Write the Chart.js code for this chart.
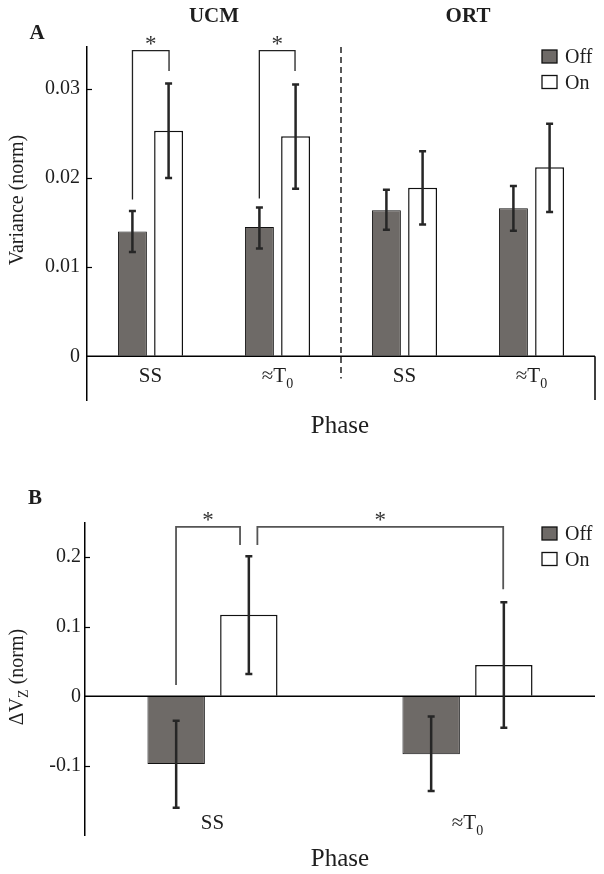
<!DOCTYPE html>
<html>
<head>
<meta charset="utf-8">
<script src="https://cdn.jsdelivr.net/npm/chart.js@4"></script>
<style>
  html, body { margin: 0; padding: 0; background: #fff; }
  #wrap { position: relative; width: 604px; height: 874px; }
  canvas { position: absolute; left: 0; }
  #ca { top: 0; }
  #cb { top: 440px; }
</style>
</head>
<body>
<div id="wrap">
  <canvas id="ca" width="604" height="440"></canvas>
  <canvas id="cb" width="604" height="434"></canvas>
</div>
<script>
// ---------- Panel A data ----------
const catA = ['SS', '\u2248T', 'SS', '\u2248T'];
const catSubA = ['', '0', '', '0'];
const groupTitlesA = ['UCM', 'ORT'];
const offA = [0.0140, 0.0145, 0.0164, 0.0166];
const onA = [0.0253, 0.0247, 0.0189, 0.0212];
const offHighA = [0.0163, 0.0167, 0.0187, 0.0191];
const offLowA = [0.0117, 0.0121, 0.0142, 0.0141];
const onHighA = [0.0306, 0.0305, 0.0230, 0.0261];
const onLowA = [0.0200, 0.0188, 0.0148, 0.0162];
const yTicksA = [0, 0.01, 0.02, 0.03];
const yTickLabelsA = ['0', '0.01', '0.02', '0.03'];
// significance brackets (x in category index units, y in data units)
const bracketsA = [
  { x1: -0.142, x2: 0.146, y1: 0.0176, y2: 0.0320, top: 0.0343 },
  { x1: 0.857, x2: 1.138, y1: 0.0177, y2: 0.0320, top: 0.0343 }
];

// ---------- Panel B data ----------
const catB = ['SS', '\u2248T'];
const catSubB = ['', '0'];
const offB = [-0.097, -0.083];
const onB = [0.117, 0.045];
const offHighB = [-0.035, -0.029];
const offLowB = [-0.160, -0.136];
const onHighB = [0.201, 0.135];
const onLowB = [0.032, -0.045];
const yTicksB = [-0.1, 0, 0.1, 0.2];
const yTickLabelsB = ['-0.1', '0', '0.1', '0.2'];
const bracketsB = [
  { x1: -0.143, x2: 0.108, y1: 0.016, y2: 0.217, top: 0.243 },
  { x1: 0.176, x2: 1.140, y1: 0.217, y2: 0.1535, top: 0.243 }
];

const seriesNames = ['Off', 'On'];
const SERIF = '"Liberation Serif", "Times New Roman", serif';
const TXT = '#1e1e1e';

function drawParts(ctx, parts, x, y) {
  // parts: [{t, size, dy, bold}] centered at x, baseline y
  let total = 0;
  parts.forEach(p => {
    ctx.font = (p.bold ? 'bold ' : '') + p.size + 'px ' + SERIF;
    p.w = ctx.measureText(p.t).width;
    total += p.w;
  });
  let cx = x - total / 2;
  ctx.textAlign = 'left';
  ctx.textBaseline = 'alphabetic';
  parts.forEach(p => {
    ctx.font = (p.bold ? 'bold ' : '') + p.size + 'px ' + SERIF;
    ctx.fillText(p.t, cx, y + (p.dy || 0));
    cx += p.w;
  });
}

const panelPlugin = {
  id: 'panelPlugin',
  afterDatasetsDraw(chart) {
    const o = chart.options.plugins.panelPlugin;
    const ctx = chart.ctx;
    const x = chart.scales.x, y = chart.scales.y;
    const ca = chart.chartArea;
    ctx.save();
    // zero line (x axis)
    const y0 = y.getPixelForValue(0);
    ctx.strokeStyle = '#000';
    ctx.lineWidth = 1.5;
    ctx.beginPath();
    ctx.moveTo(ca.left, y0);
    ctx.lineTo(ca.right, y0);
    ctx.stroke();
    if (o.rightTick) {
      ctx.beginPath();
      ctx.moveTo(ca.right, y0);
      ctx.lineTo(ca.right, ca.bottom);
      ctx.stroke();
    }
    // inward y tick marks
    ctx.lineWidth = 1.2;
    o.yTicks.forEach(v => {
      if (v === 0) return;
      const py = Math.round(y.getPixelForValue(v)) + 0.5;
      ctx.beginPath();
      ctx.moveTo(ca.left, py);
      ctx.lineTo(ca.left + 5, py);
      ctx.stroke();
    });
    // divider
    if (o.divider !== undefined) {
      const dx = x.getPixelForValue(o.divider);
      ctx.setLineDash([6, 4]);
      ctx.lineWidth = 1.5;
      ctx.strokeStyle = '#222';
      ctx.beginPath();
      ctx.moveTo(dx, ca.top);
      ctx.lineTo(dx, y.getPixelForValue(o.dividerBottom));
      ctx.stroke();
      ctx.setLineDash([]);
    }
    // error bars
    ctx.strokeStyle = '#262626';
    ctx.lineWidth = 2.5;
    o.errors.forEach((err, di) => {
      const meta = chart.getDatasetMeta(di);
      meta.data.forEach((bar, j) => {
        const hi = y.getPixelForValue(err.high[j]);
        const lo = y.getPixelForValue(err.low[j]);
        ctx.beginPath();
        ctx.moveTo(bar.x, hi);
        ctx.lineTo(bar.x, lo);
        ctx.moveTo(bar.x - 3.5, hi);
        ctx.lineTo(bar.x + 3.5, hi);
        ctx.moveTo(bar.x - 3.5, lo);
        ctx.lineTo(bar.x + 3.5, lo);
        ctx.stroke();
      });
    });
    // significance brackets
    ctx.strokeStyle = o.bracketColor;
    ctx.lineWidth = o.bracketWidth;
    ctx.fillStyle = '#333';
    o.brackets.forEach(b => {
      const x1 = x.getPixelForValue(b.x1), x2 = x.getPixelForValue(b.x2);
      const t = y.getPixelForValue(b.top);
      ctx.beginPath();
      ctx.moveTo(x1, y.getPixelForValue(b.y1));
      ctx.lineTo(x1, t);
      ctx.lineTo(x2, t);
      ctx.lineTo(x2, y.getPixelForValue(b.y2));
      ctx.stroke();
      ctx.font = '23px ' + SERIF;
      ctx.textAlign = 'center';
      ctx.textBaseline = 'alphabetic';
      ctx.fillText('*', (x1 + x2) / 2, t + 0.5);
    });
    // category labels
    ctx.fillStyle = TXT;
    o.cats.forEach((c, i) => {
      const px = x.getPixelForValue(i);
      const parts = [{ t: c, size: 21 }];
      if (o.catSubs[i]) parts.push({ t: o.catSubs[i], size: 14, dy: 6 });
      drawParts(ctx, parts, px, o.catLabelY);
    });
    // x title
    drawParts(ctx, [{ t: 'Phase', size: 25 }], o.phaseX, o.phaseY);
    // group titles
    if (o.groupTitles) {
      o.groupTitles.forEach((g, i) => {
        drawParts(ctx, [{ t: g, size: 21, bold: true }], x.getPixelForValue(i * 2 + 0.5), 22);
      });
    }
    // panel letter
    drawParts(ctx, [{ t: o.letter, size: 21, bold: true }], o.letterX, o.letterY);
    // y title (rotated)
    ctx.save();
    ctx.translate(o.yTitleX, o.yTitleY);
    ctx.rotate(-Math.PI / 2);
    drawParts(ctx, o.yTitle, 0, 0);
    ctx.restore();
    // legend
    chart.data.datasets.forEach((ds, i) => {
      const ly = o.legendY + i * 25.5;
      ctx.fillStyle = ds.backgroundColor;
      ctx.fillRect(542, ly, 15, 13);
      ctx.strokeStyle = ds.borderColor;
      ctx.lineWidth = 1.3;
      ctx.strokeRect(542, ly, 15, 13);
      ctx.fillStyle = TXT;
      ctx.font = '20px ' + SERIF;
      ctx.textAlign = 'left';
      ctx.textBaseline = 'alphabetic';
      ctx.fillText(ds.label, 565, ly + 13);
    });
    ctx.restore();
  }
};

function makeChart(id, cfg) {
  return new Chart(document.getElementById(id), {
    type: 'bar',
    data: {
      labels: cfg.cats,
      datasets: [
        { label: seriesNames[0], data: cfg.off, backgroundColor: '#6e6a67', borderColor: '#111', borderWidth: 1,
          barPercentage: cfg.barPct, categoryPercentage: cfg.catPct },
        { label: seriesNames[1], data: cfg.on, backgroundColor: '#ffffff', borderColor: '#111', borderWidth: 1.5,
          barPercentage: cfg.barPct, categoryPercentage: cfg.catPct }
      ]
    },
    options: {
      responsive: false,
      animation: false,
      events: [],
      layout: { padding: cfg.padding },
      plugins: {
        legend: { display: false },
        tooltip: { enabled: false },
        panelPlugin: cfg.plugin
      },
      scales: {
        x: { type: 'category', display: false, offset: true, grid: { display: false } },
        y: {
          min: cfg.yMin, max: cfg.yMax,
          afterFit: s => { s.width = cfg.axisLeft; },
          afterBuildTicks: s => { s.ticks = cfg.yTicks.map(v => ({ value: v })); },
          ticks: {
            padding: cfg.tickPad, color: TXT,
            font: { family: SERIF, size: 20 },
            callback: (v, i) => cfg.yTickLabels[i]
          },
          grid: { drawOnChartArea: false, drawTicks: false },
          border: { display: true, color: '#000', width: 1.5 }
        }
      }
    },
    plugins: [panelPlugin]
  });
}

makeChart('ca', {
  cats: catA, off: offA, on: onA, barPct: 0.8, catPct: 0.57,
  padding: { top: 47, bottom: 40, left: 0, right: 9 },
  yMin: -0.0049, yMax: 0.0347, yTicks: yTicksA, yTickLabels: yTickLabelsA,
  axisLeft: 87, tickPad: 7,
  plugin: {
    yTicks: yTicksA, rightTick: true, divider: 1.5, dividerBottom: -0.0025,
    errors: [{ high: offHighA, low: offLowA }, { high: onHighA, low: onLowA }],
    brackets: bracketsA, bracketColor: '#222', bracketWidth: 1.3,
    cats: catA, catSubs: catSubA, catLabelY: 382,
    phaseX: 340, phaseY: 433,
    groupTitles: groupTitlesA,
    letter: 'A', letterX: 37, letterY: 39,
    yTitle: [{ t: 'Variance (norm)', size: 20 }], yTitleX: 23, yTitleY: 200,
    legendY: 50
  }
});

makeChart('cb', {
  cats: catB, off: offB, on: onB, barPct: 0.79, catPct: 0.57,
  padding: { top: 82.7, bottom: 39, left: 0, right: 9 },
  yMin: -0.199, yMax: 0.249, yTicks: yTicksB, yTickLabels: yTickLabelsB,
  axisLeft: 85, tickPad: 4,
  plugin: {
    yTicks: yTicksB, rightTick: false,
    errors: [{ high: offHighB, low: offLowB }, { high: onHighB, low: onLowB }],
    brackets: bracketsB, bracketColor: '#555', bracketWidth: 1.8,
    cats: catB, catSubs: catSubB, catLabelY: 389,
    phaseX: 340, phaseY: 426,
    letter: 'B', letterX: 35, letterY: 64,
    yTitle: [{ t: '\u0394V', size: 20 }, { t: 'Z', size: 14, dy: 5 }, { t: ' (norm)', size: 20 }],
    yTitleX: 23, yTitleY: 237,
    legendY: 87
  }
});
</script>
</body>
</html>
